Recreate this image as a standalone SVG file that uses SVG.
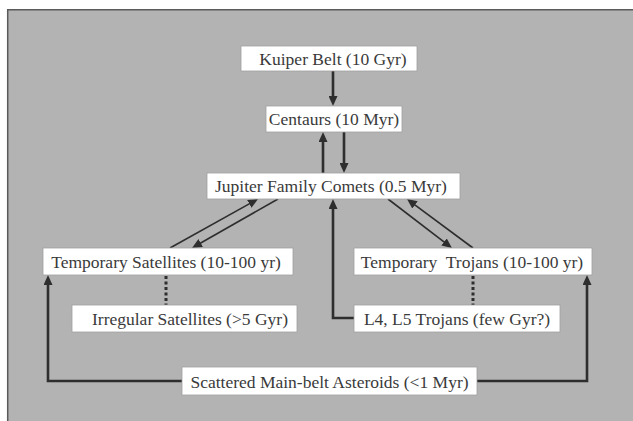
<svg xmlns="http://www.w3.org/2000/svg" width="633" height="421" viewBox="0 0 633 421">
<defs>
<style>
.box{fill:#ffffff;stroke:#a0a0a0;stroke-width:0.8}
.lbl{font-family:"Liberation Serif","Times New Roman",serif;font-size:17.5px;fill:#3a3a3a;text-anchor:middle;white-space:pre}
.thick{fill:none;stroke:#2e2e2e;stroke-width:2.6;marker-end:url(#ah)}
.thin{fill:none;stroke:#2e2e2e;stroke-width:1.6;marker-end:url(#ah)}
.dot{fill:none;stroke:#2e2e2e;stroke-width:3;stroke-dasharray:3 2.5}
</style>
<marker id="ah" markerUnits="userSpaceOnUse" markerWidth="11" markerHeight="9" refX="4" refY="4.5" orient="auto">
<path d="M0,0 L10,4.5 L0,9 z" fill="#2e2e2e"/>
</marker>
</defs>
<rect x="0" y="0" width="633" height="421" fill="#ffffff"/>
<rect x="7" y="9" width="630" height="416" fill="#b3b3b3"/>
<path d="M7.7,421 V9.7 H633" fill="none" stroke="#5a5a5a" stroke-width="1.5"/>

<g id="connectors">
<line class="thick" x1="333" y1="71" x2="333" y2="100"/>
<line class="thick" x1="323" y1="173" x2="323" y2="138"/>
<line class="thick" x1="344" y1="132" x2="344" y2="167"/>
<line class="thin" x1="170" y1="248" x2="252.8" y2="201.9"/>
<line class="thin" x1="278" y1="199" x2="197.2" y2="245"/>
<line class="thin" x1="388" y1="199" x2="447.2" y2="244.4"/>
<line class="thin" x1="473" y1="248" x2="411.8" y2="202.6"/>
<path class="thick" d="M354,318 H333 V205"/>
<path class="thick" d="M182,381 H48 V281"/>
<path class="thick" d="M477,381 H587 V281"/>
<line class="dot" x1="166" y1="276" x2="166" y2="305"/>
<line class="dot" x1="473" y1="276" x2="473" y2="305"/>
</g>

<g id="kuiper">
<rect class="box" x="241" y="46" width="176" height="25"/>
<text class="lbl" x="333" y="64.5">Kuiper Belt (10 Gyr)</text>
</g>
<g id="centaurs">
<rect class="box" x="266" y="106" width="136" height="26"/>
<text class="lbl" x="334" y="125">Centaurs (10 Myr)</text>
</g>
<g id="jfc">
<rect class="box" x="207" y="173" width="253" height="26"/>
<text class="lbl" x="331" y="192">Jupiter Family Comets (0.5 Myr)</text>
</g>
<g id="temp-satellites">
<rect class="box" x="43" y="248" width="250" height="27"/>
<text class="lbl" x="166" y="267.5">Temporary Satellites (10-100 yr)</text>
</g>
<g id="temp-trojans">
<rect class="box" x="354" y="248" width="238" height="27"/>
<text class="lbl" x="472" y="267.5">Temporary  Trojans (10-100 yr)</text>
</g>
<g id="irregular-satellites">
<rect class="box" x="72" y="305" width="225" height="27"/>
<text class="lbl" x="190" y="324.5">Irregular Satellites (&gt;5 Gyr)</text>
</g>
<g id="l4-l5-trojans">
<rect class="box" x="354" y="305" width="206" height="27"/>
<text class="lbl" x="457" y="324.5">L4, L5 Trojans (few Gyr?)</text>
</g>
<g id="scattered">
<rect class="box" x="182" y="367" width="295" height="28"/>
<text class="lbl" x="329.5" y="387.5">Scattered Main-belt Asteroids (&lt;1 Myr)</text>
</g>
</svg>
